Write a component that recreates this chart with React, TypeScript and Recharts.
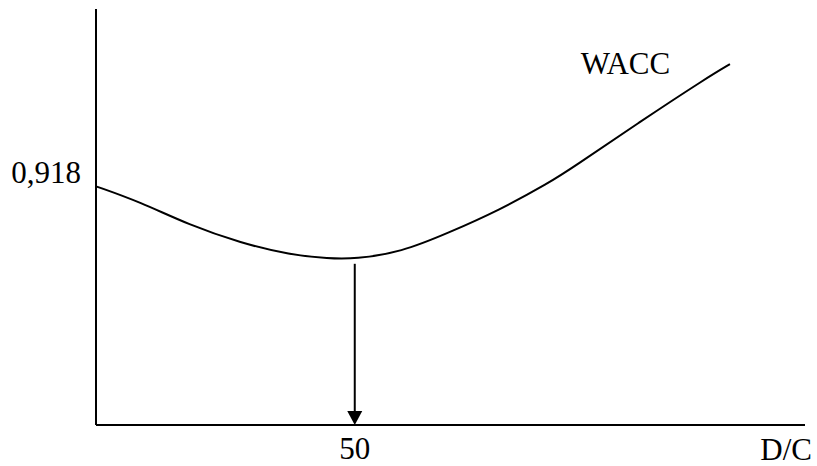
import { LineChart, Line, XAxis, YAxis, ReferenceLine, ReferenceDot } from "recharts";

// D/C ratio (x) and WACC (y)
const debtRatio = [0, 8.5, 18, 28, 37.5, 45, 50, 59, 68, 78, 87.5, 92, 105, 118, 122.5];
const wacc = [0.918, 0.858, 0.769, 0.7, 0.654, 0.64, 0.638, 0.665, 0.738, 0.827, 0.931, 0.988, 1.165, 1.335, 1.388];

const yTicks = [0.918];
const xTicks = [50];
const optimum = { x: 50, yTop: 0.62, yBottom: 0 };
const seriesLabel = { x: 102.3, y: 1.392, text: "WACC" };
const xAxisTitle = "D/C";

const FONT = "'Liberation Serif', 'Times New Roman', serif";
const FONT_SIZE = 31;

const data = debtRatio.map((x, i) => ({ x, wacc: wacc[i] }));

function YTick({ x, y, payload }: any) {
  return (
    <text x={x} y={y - 14} textAnchor="end" dominantBaseline="central" fontFamily={FONT} fontSize={FONT_SIZE} fill="#000">
      {String(payload.value).replace(".", ",")}
    </text>
  );
}

function XTick({ x, y, payload }: any) {
  return (
    <text x={x} y={y + 23} textAnchor="middle" dominantBaseline="central" fontFamily={FONT} fontSize={FONT_SIZE} fill="#000">
      {payload.value}
    </text>
  );
}

function XTitle({ viewBox }: any) {
  const vb = viewBox || {};
  return (
    <text x={vb.x + vb.width + 7} y={vb.y + 24} textAnchor="end" dominantBaseline="central" fontFamily={FONT} fontSize={FONT_SIZE} fill="#000">
      {xAxisTitle}
    </text>
  );
}

function Arrow(props: any) {
  const { x1, y1, x2, y2 } = props;
  return (
    <g>
      <line x1={x1} y1={y1} x2={x2} y2={y2 - 12} stroke="#000" strokeWidth={2} />
      <polygon points={`${x2 - 7.5},${y2 - 14} ${x2 + 7.5},${y2 - 14} ${x2},${y2}`} fill="#000" />
    </g>
  );
}

export default function App() {
  return (
    <div style={{ position: "absolute", left: 0, top: 0, width: 817, height: 466, background: "#fff" }}>
      <LineChart width={817} height={466} data={data} margin={{ top: 9, right: 12, bottom: 40, left: 95 }}>
        <XAxis
          dataKey="x"
          type="number"
          domain={[0, 137]}
          ticks={xTicks}
          tick={<XTick />}
          tickLine={false}
          tickSize={0}
          tickMargin={0}
          height={1}
          axisLine={{ stroke: "#000", strokeWidth: 2 }}
          label={<XTitle />}
        />
        <YAxis
          type="number"
          domain={[0, 1.6]}
          ticks={yTicks}
          tick={<YTick />}
          tickLine={false}
          tickSize={0}
          tickMargin={15}
          width={1}
          axisLine={{ stroke: "#000", strokeWidth: 2 }}
        />
        <Line
          type="basis"
          dataKey="wacc"
          stroke="#000"
          strokeWidth={2}
          dot={false}
          isAnimationActive={false}
        />
        <ReferenceLine
          segment={[
            { x: optimum.x, y: optimum.yTop },
            { x: optimum.x, y: optimum.yBottom },
          ]}
          shape={<Arrow />}
          ifOverflow="visible"
        />
        <ReferenceDot
          x={seriesLabel.x}
          y={seriesLabel.y}
          r={0}
          stroke="none"
          fill="none"
          ifOverflow="visible"
          label={{ value: seriesLabel.text, position: "center", fontFamily: FONT, fontSize: FONT_SIZE, fill: "#000" }}
        />
      </LineChart>
    </div>
  );
}
